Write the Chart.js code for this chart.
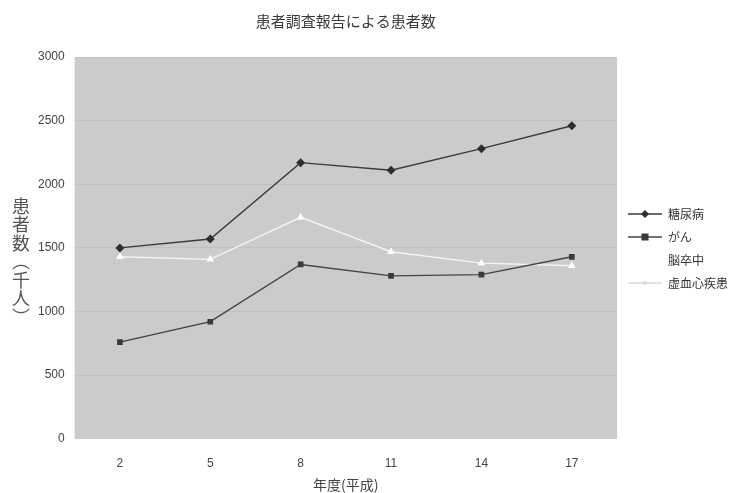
<!DOCTYPE html>
<html lang="ja">
<head>
<meta charset="utf-8">
<title>患者調査報告による患者数</title>
<script src="https://cdn.jsdelivr.net/npm/chart.js@4.4.1/dist/chart.umd.min.js"></script>
<style>
  html, body { margin: 0; padding: 0; background: #ffffff; }
  #wrap { position: relative; width: 738px; height: 493px; }
</style>
</head>
<body>
<div id="wrap"><canvas id="chart" width="738" height="493"></canvas></div>
<script>
// 年度（平成）
const years = ['2', '5', '8', '11', '14', '17'];

// 患者数（千人）
const diabetes = [1500, 1570, 2170, 2110, 2280, 2460];
const cancer = [760, 920, 1370, 1280, 1290, 1430];
const stroke = [1430, 1410, 1740, 1470, 1380, 1360];
const ischemicHeart = [];

const seriesNames = ['糖尿病', 'がん', '脳卒中', '虚血心疾患'];
const yAxisTitle = ['患', '者', '数', '︵', '千', '人', '︶'];

const FONT = '"Noto Sans CJK JP", "Liberation Sans", sans-serif';
const NUM_FONT = '"Liberation Sans", sans-serif';

// Small line-with-marker icons for the legend
function legendIcon(lineColor, marker, fill) {
  const c = document.createElement('canvas');
  c.width = 34; c.height = 10;
  const g = c.getContext('2d');
  g.strokeStyle = lineColor; g.lineWidth = 1.3;
  g.beginPath(); g.moveTo(0, 5); g.lineTo(34, 5); g.stroke();
  g.fillStyle = fill;
  if (marker === 'diamond') {
    g.beginPath(); g.moveTo(17, 1); g.lineTo(21, 5); g.lineTo(17, 9); g.lineTo(13, 5); g.closePath(); g.fill();
  } else if (marker === 'square') {
    g.fillRect(13.5, 1.5, 7, 7);
  } else if (marker === 'triangle') {
    g.beginPath(); g.moveTo(17, 1); g.lineTo(21, 8); g.lineTo(13, 8); g.closePath(); g.fill();
  } else if (marker === 'dot') {
    g.fillRect(15.5, 3.5, 3, 3);
  }
  return c;
}
const legendIcons = [
  legendIcon('#3a3a3a', 'diamond', '#2e2e2e'),
  legendIcon('#444444', 'square', '#3a3a3a'),
  legendIcon('#ffffff', 'triangle', '#ffffff'),
  legendIcon('#d6d8d9', 'dot', '#cfd1d2')
];

// Grey plot background and the stacked vertical axis title
const plotDecor = {
  id: 'plotDecor',
  beforeDraw(chart) {
    const { ctx, chartArea: a } = chart;
    ctx.save();
    ctx.fillStyle = '#c9cbcc';
    ctx.fillRect(a.left, a.top, a.right - a.left, a.bottom - a.top);
    ctx.restore();
  },
  afterDraw(chart) {
    const { ctx } = chart;
    ctx.save();
    ctx.fillStyle = '#555555';
    ctx.font = '18px ' + FONT;
    ctx.textAlign = 'center';
    ctx.textBaseline = 'middle';
    yAxisTitle.forEach((ch, i) => ctx.fillText(ch, 21, 206 + i * 18.5));
    ctx.restore();
  }
};

new Chart(document.getElementById('chart'), {
  type: 'line',
  data: {
    labels: years,
    datasets: [
      { label: seriesNames[0], data: diabetes, borderColor: '#3a3a3a', backgroundColor: '#2e2e2e',
        borderWidth: 1.4, pointStyle: 'rectRot', pointRadius: 4.5, pointBorderWidth: 0 },
      { label: seriesNames[1], data: cancer, borderColor: '#444444', backgroundColor: '#3a3a3a',
        borderWidth: 1.4, pointStyle: 'rect', pointRadius: 4, pointBorderWidth: 0 },
      { label: seriesNames[2], data: stroke, borderColor: '#f4f4f4', backgroundColor: '#ffffff',
        borderWidth: 1.4, pointStyle: 'triangle', pointRadius: 4.5, pointBorderWidth: 0 },
      { label: seriesNames[3], data: ischemicHeart, borderColor: '#d6d8d9', backgroundColor: '#cfd1d2',
        borderWidth: 1, pointStyle: 'rect', pointRadius: 2, pointBorderWidth: 0 }
    ]
  },
  options: {
    responsive: false,
    animation: false,
    devicePixelRatio: 1,
    layout: { padding: { left: 28, right: 0, top: 4, bottom: 0 } },
    font: { family: FONT },
    plugins: {
      title: {
        display: true,
        fullSize: false,
        text: '患者調査報告による患者数',
        color: '#3a3a3a',
        font: { family: FONT, size: 15, weight: 'normal' },
        padding: { top: 8, bottom: 27 }
      },
      legend: {
        position: 'right',
        align: 'center',
        labels: {
          color: '#333333',
          font: { family: FONT, size: 12 },
          usePointStyle: true,
          pointStyleWidth: 34,
          padding: 11,
          generateLabels(chart) {
            const items = Chart.defaults.plugins.legend.labels.generateLabels(chart);
            items.forEach((it, i) => { it.pointStyle = legendIcons[i]; it.rotation = 0; });
            return items;
          }
        }
      },
      tooltip: { enabled: false }
    },
    scales: {
      x: {
        offset: true,
        grid: { display: false, drawTicks: false },
        border: { display: false },
        ticks: { color: '#444444', font: { family: NUM_FONT, size: 12 }, padding: 18 },
        title: {
          display: true,
          text: '年度(平成)',
          color: '#444444',
          font: { family: FONT, size: 14 },
          padding: { top: -13, bottom: 0 }
        }
      },
      y: {
        min: 0,
        max: 3000,
        ticks: {
          stepSize: 500,
          color: '#444444',
          font: { family: NUM_FONT, size: 12 },
          padding: 10,
          callback: (v) => String(v)
        },
        grid: { color: 'rgba(150,152,153,0.18)', drawTicks: false },
        border: { display: false }
      }
    }
  },
  plugins: [plotDecor]
});
</script>
</body>
</html>
